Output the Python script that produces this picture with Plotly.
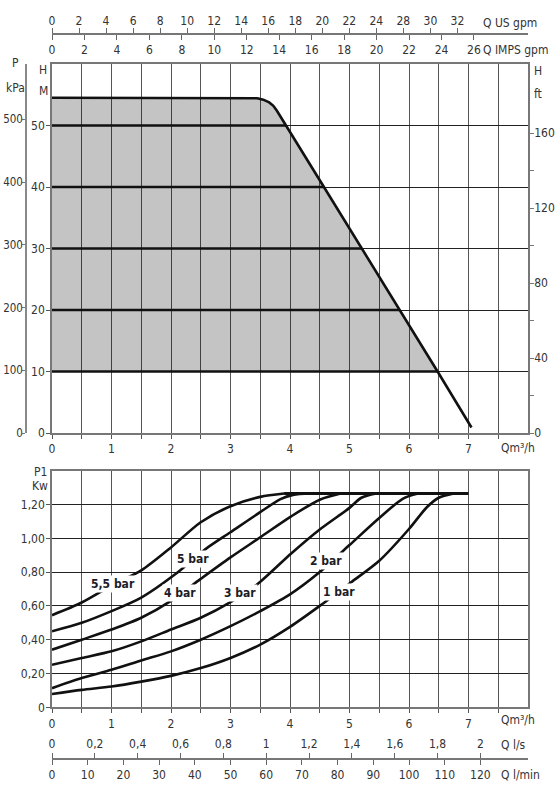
import numpy as np
import plotly.graph_objects as go

# ---------------- DATA ----------------
# Pump curve (top chart): flow Q [m3/h] vs head H [m]
pump_q = [0, 3.3, 3.45, 3.55, 3.65, 3.72, 3.78, 4.57, 5.21, 5.84, 6.48, 7.05]
pump_h = [54.5, 54.5, 54.42, 54.2, 53.75, 53.2, 52.4, 40, 30, 20, 10, 0.9]
pressure_levels = [10, 20, 30, 40, 50]          # set pressures (m) drawn in the working area

# Power curves (bottom chart): flow Q [m3/h] vs P1 [kW]
q_55 = [0, 0.5, 1.0, 1.5, 2.0, 2.5, 3.0, 3.5, 3.9]
p_55 = [0.545, 0.62, 0.72, 0.81, 0.946, 1.095, 1.19, 1.245, 1.265]
q_5 = [0, 0.5, 1.0, 1.5, 2.07, 2.58, 3.0, 3.5, 3.84, 4.05, 4.35]
p_5 = [0.45, 0.50, 0.569, 0.649, 0.787, 0.936, 1.036, 1.155, 1.232, 1.257, 1.265]
q_4 = [0, 0.5, 1.0, 1.5, 2.0, 2.5, 3.0, 3.5, 4.02, 4.51, 4.85]
p_4 = [0.341, 0.40, 0.46, 0.53, 0.63, 0.76, 0.887, 1.006, 1.13, 1.23, 1.265]
q_3 = [0, 0.5, 1.0, 1.5, 2.0, 2.5, 3.0, 3.45, 4.02, 4.51, 5.0, 5.2, 5.45]
p_3 = [0.252, 0.292, 0.331, 0.39, 0.46, 0.53, 0.623, 0.728, 0.91, 1.055, 1.18, 1.24, 1.265]
q_2 = [0, 0.5, 1.0, 1.5, 2.0, 2.5, 3.0, 3.5, 4.0, 4.5, 5.0, 5.5, 5.9, 6.15]
p_2 = [0.113, 0.173, 0.222, 0.277, 0.331, 0.40, 0.48, 0.569, 0.668, 0.80, 0.96, 1.12, 1.235, 1.265]
q_1 = [0, 0.5, 1.0, 1.5, 2.0, 2.5, 3.0, 3.5, 4.0, 4.5, 5.02, 5.5, 6.0, 6.3, 6.5, 6.75]
p_1 = [0.079, 0.103, 0.123, 0.152, 0.186, 0.232, 0.292, 0.371, 0.476, 0.60, 0.738, 0.867, 1.055, 1.184, 1.24, 1.265]
p1_max = 1.265
q_max = 7.0

curve_names = ["5,5 bar", "5 bar", "4 bar", "3 bar", "2 bar", "1 bar"]
curve_q = [q_55, q_5, q_4, q_3, q_2, q_1]
curve_p = [p_55, p_5, p_4, p_3, p_2, p_1]
label_q = [1.02, 2.37, 2.15, 3.16, 4.61, 4.83]
label_p = [0.73, 0.877, 0.679, 0.679, 0.867, 0.682]

# Axis ticks
q_ticks = [i * 0.5 for i in range(16)]
q_ticktext = [str(int(v)) if v == int(v) and v <= 7 else "" for v in q_ticks]
h_ticks = [0, 10, 20, 30, 40, 50]
kpa_ticks = [0, 100, 200, 300, 400, 500]
ft_ticks = [0, 20, 40, 60, 80, 100, 120, 140, 160]
ft_text = ["0", "", "40", "", "80", "", "120", "", "160"]
usgpm_ticks = list(range(0, 31, 2))
usgpm_text = ["0", "2", "4", "6", "8", "10", "12", "14", "16", "18", "20", "22", "24", "28", "30", "32"]
impgpm_ticks = list(range(0, 27, 2))
impgpm_text = [str(v) for v in impgpm_ticks]
p1_ticks = [0, 0.2, 0.4, 0.6, 0.8, 1.0, 1.2]
p1_text = ["0", "0,20", "0,40", "0,60", "0,80", "1,00", "1,20"]
ls_ticks = [0, 0.2, 0.4, 0.6, 0.8, 1.0, 1.2, 1.4, 1.6, 1.8, 2.0]
ls_text = ["0", "0,2", "0,4", "0,6", "0,8", "1", "1,2", "1,4", "1,6", "1,8", "2"]
lmin_ticks = list(range(0, 121, 10))

# ---------------- LAYOUT HELPERS ----------------
W, H = 560, 793
def fx(px):
    return px / W
def fy(py):
    return 1 - py / H

FONT = "Liberation Sans Narrow, DejaVu Sans Condensed, Arial Narrow, sans-serif"
TXT = "#333333"
FS = 12
tickfont = dict(family=FONT, size=FS, color=TXT)

Q_RANGE = [0, 8]
H_RANGE = [0, 60]
xdom = [fx(52), fx(528)]
top_dom = [fy(433), fy(64)]
bot_dom = [fy(707.3), fy(470.7)]

fig = go.Figure()

# ---------------- TOP CHART ----------------
pq = np.array(pump_q)
ph = np.array(pump_h)
q10 = float(np.interp(10, ph[::-1], pq[::-1]))
mask = ph >= 10
fill_x = list(pq[mask]) + [q10, 0]
fill_y = list(ph[mask]) + [10, 10]
fig.add_trace(go.Scatter(x=fill_x, y=fill_y, fill="toself", fillcolor="rgba(0,0,0,0.23)",
                         line=dict(width=0), mode="lines", hoverinfo="skip", showlegend=False))
for lvl in pressure_levels:
    ql = float(np.interp(lvl, ph[::-1], pq[::-1]))
    fig.add_trace(go.Scatter(x=[0, ql], y=[lvl, lvl], mode="lines",
                             line=dict(color="#111111", width=2.6), showlegend=False, hoverinfo="skip"))
fig.add_trace(go.Scatter(x=pump_q, y=pump_h, mode="lines",
                         line=dict(color="#111111", width=2.6), showlegend=False))

# dummy traces so overlaying axes render
for xa, ya in [("x", "y3"), ("x", "y4"), ("x3", "y"), ("x4", "y")]:
    fig.add_trace(go.Scatter(x=[0], y=[0], xaxis=xa, yaxis=ya, mode="markers", opacity=0,
                             showlegend=False, hoverinfo="skip"))

# ---------------- BOTTOM CHART ----------------
for qs, ps in zip(curve_q, curve_p):
    fig.add_trace(go.Scatter(x=qs, y=ps, xaxis="x2", yaxis="y2", mode="lines",
                             line=dict(color="#111111", width=2.6, shape="spline", smoothing=0.8),
                             showlegend=False))
flat_start = min(q[-1] for q in curve_q)
fig.add_trace(go.Scatter(x=[flat_start, q_max], y=[p1_max, p1_max], xaxis="x2", yaxis="y2", mode="lines",
                         line=dict(color="#111111", width=3.2), showlegend=False))
for xa in ["x5", "x6"]:
    fig.add_trace(go.Scatter(x=[0], y=[0], xaxis=xa, yaxis="y2", mode="markers", opacity=0,
                             showlegend=False, hoverinfo="skip"))

common_x = dict(tickvals=q_ticks, ticktext=q_ticktext, ticks="outside", ticklen=4, tickcolor="#555",
                showgrid=True, gridcolor="#555555", gridwidth=1.3, showline=True, mirror=True,
                linecolor="#777777", linewidth=1.6, zeroline=False, tickfont=tickfont, range=Q_RANGE,
                domain=xdom, fixedrange=True, automargin=False)

fig.update_layout(
    width=W, height=H, autosize=False,
    margin=dict(l=0, r=0, t=0, b=0, pad=0),
    paper_bgcolor="white", plot_bgcolor="white",
    showlegend=False,
    xaxis=dict(anchor="y", **common_x),
    yaxis=dict(domain=top_dom, range=H_RANGE, anchor="x", tickvals=h_ticks, ticks="outside", ticklen=4,
               tickcolor="#555", showgrid=True, gridcolor="#222222", gridwidth=1, showline=True, mirror=True,
               linecolor="#777777", linewidth=1.6, zeroline=False, tickfont=tickfont, automargin=False,
               ticklabelstandoff=-1),
    yaxis3=dict(overlaying="y", anchor="free", position=fx(26), side="left",
                range=[0, H_RANGE[1] * 9.80665], tickvals=kpa_ticks, ticks="outside", ticklen=3,
                tickcolor="#777", showgrid=False, showline=True, linecolor="#888888", linewidth=1.6,
                zeroline=False, tickfont=dict(family=FONT, size=11.5, color=TXT), automargin=False,
                ticklabelstandoff=-3),
    yaxis4=dict(overlaying="y", anchor="x", side="right",
                range=[0, H_RANGE[1] / 0.3048], tickvals=ft_ticks, ticktext=ft_text, ticks="outside", ticklen=4,
                tickcolor="#777", showgrid=False, showline=True, linecolor="#777777", linewidth=1.6,
                zeroline=False, tickfont=tickfont, automargin=False, ticklabelstandoff=-2),
    xaxis3=dict(overlaying="x", anchor="free", position=fy(34), side="top",
                range=[0, Q_RANGE[1] / 0.2271247], tickvals=usgpm_ticks, ticktext=usgpm_text,
                ticks="outside", ticklen=5, tickcolor="#666", showgrid=False, showline=True,
                linecolor="#777777", linewidth=1.6, zeroline=False, tickfont=tickfont, automargin=False,
                ticklabelstandoff=-2),
    xaxis4=dict(overlaying="x", anchor="free", position=fy(34), side="bottom",
                range=[0, Q_RANGE[1] / 0.2727655], tickvals=impgpm_ticks, ticktext=impgpm_text,
                ticks="outside", ticklen=5, tickcolor="#666", showgrid=False, showline=False,
                zeroline=False, tickfont=tickfont, automargin=False),
    xaxis2=dict(anchor="y2", **common_x),
    yaxis2=dict(domain=bot_dom, range=[0, 1.4], anchor="x2", tickvals=p1_ticks, ticktext=p1_text,
                ticks="outside", ticklen=4, tickcolor="#555", showgrid=True, gridcolor="#222222", gridwidth=1.4,
                showline=True, mirror=True, linecolor="#777777", linewidth=1.6, zeroline=False,
                tickfont=tickfont, automargin=False, ticklabelstandoff=-1),
    xaxis5=dict(overlaying="x2", anchor="free", position=fy(759), side="top",
                range=[0, Q_RANGE[1] / 3.6], tickvals=ls_ticks, ticktext=ls_text,
                ticks="outside", ticklen=5, tickcolor="#666", showgrid=False, showline=True,
                linecolor="#777777", linewidth=1.6, zeroline=False, tickfont=tickfont, automargin=False),
    xaxis6=dict(overlaying="x2", anchor="free", position=fy(759), side="bottom",
                range=[0, Q_RANGE[1] / 0.06], tickvals=lmin_ticks,
                ticks="outside", ticklen=5, tickcolor="#666", showgrid=False, showline=False,
                zeroline=False, tickfont=tickfont, automargin=False),
)

ann = []
def paper_text(text, x, y, xanchor="center", size=FS):
    ann.append(dict(text=text, x=fx(x), y=fy(y), xref="paper", yref="paper", xanchor=xanchor,
                    yanchor="middle", showarrow=False, font=dict(family=FONT, size=size, color=TXT)))

paper_text("Q US gpm", 481, 23, "left")
paper_text("Q IMPS gpm", 481, 50, "left")
paper_text("P", 15, 63)
paper_text("kPa", 15, 88)
paper_text("H", 43, 70)
paper_text("M", 43, 91)
paper_text("H", 538, 71)
paper_text("ft", 538, 94)
paper_text("Qm³/h", 499, 448, "left")
paper_text("P1", 40, 472)
paper_text("Kw", 40, 486)
paper_text("Qm³/h", 499, 720, "left")
paper_text("Q l/s", 499, 745, "left")
paper_text("Q l/min", 499, 775, "left")

for name, lq, lp in zip(curve_names, label_q, label_p):
    ann.append(dict(text="<b>" + name + "</b>", x=lq, y=lp, xref="x2", yref="y2", showarrow=False,
                    bgcolor="white", borderpad=1,
                    font=dict(family=FONT, size=FS, color="#1c1c28")))

fig.update_layout(annotations=ann)
fig.write_html("out.html")
